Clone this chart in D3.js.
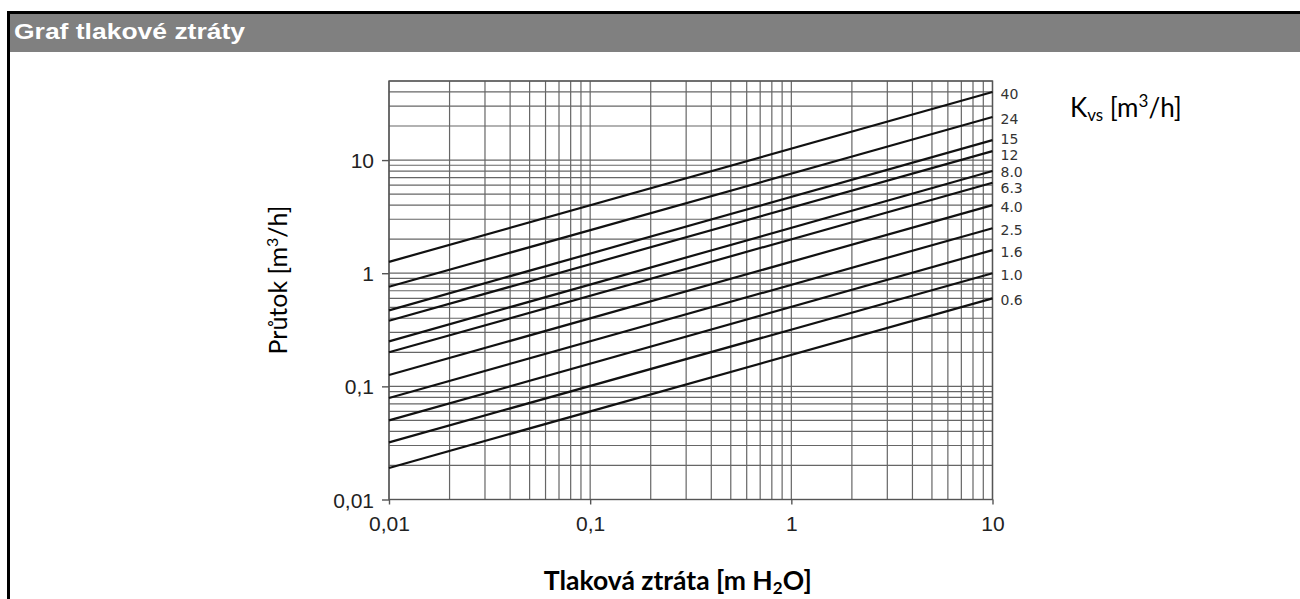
<!DOCTYPE html>
<html>
<head>
<meta charset="utf-8">
<script src="https://cdn.jsdelivr.net/npm/d3@7"></script>
<style>
  body { margin: 0; background: #fff; }
  svg { display: block; }
</style>
</head>
<body>
<div id="chart"></div>
<script>
var width = 1300,
    height = 599;

// valve Kvs values (labels at the right edge)
var kvsLabels = ["40", "24", "15", "12", "8.0", "6.3", "4.0", "2.5", "1.6", "1.0", "0.6"];
// flow read at 0,01 m H2O and at 10 m H2O for each line
var flowAtMin = [1.26, 0.76, 0.47, 0.38, 0.25, 0.20, 0.126, 0.079, 0.05, 0.032, 0.019];
var flowAtMax = [40, 24, 15, 12, 8.0, 6.3, 4.0, 2.5, 1.6, 1.0, 0.6];

var pressureRange = [0.01, 10];
var flowRange = [0.01, 50];

var xTicks = [0.01, 0.1, 1, 10],
    xTickLabels = ["0,01", "0,1", "1", "10"];
var yTicks = [0.01, 0.1, 1, 10],
    yTickLabels = ["0,01", "0,1", "1", "10"];

var plot = { left: 389, right: 992.5, top: 81, bottom: 499.5 };

var svg = d3.select("#chart").append("svg")
    .attr("width", width)
    .attr("height", height);

// frame + title bar
svg.append("rect")
    .attr("x", 7).attr("y", 11)
    .attr("width", width - 7).attr("height", 3.5)
    .attr("fill", "#000");
svg.append("rect")
    .attr("x", 7).attr("y", 14.5)
    .attr("width", width - 7).attr("height", 37.5)
    .attr("fill", "#808080");
svg.append("rect")
    .attr("x", 7).attr("y", 11)
    .attr("width", 3).attr("height", height - 11)
    .attr("fill", "#000");
svg.append("text")
    .attr("x", 14)
    .attr("y", 39)
    .attr("textLength", 231)
    .attr("lengthAdjust", "spacingAndGlyphs")
    .style("font-family", "'Liberation Sans', Arial, sans-serif")
    .style("font-weight", "bold")
    .style("font-size", "22px")
    .style("fill", "#fff")
    .text("Graf tlakové ztráty");

var x = d3.scaleLog().domain(pressureRange).range([plot.left, plot.right]);
var y = d3.scaleLog().domain(flowRange).range([plot.bottom, plot.top]);

var grid = svg.append("g").attr("id", "grid");

grid.selectAll(".vgrid")
    .data(x.ticks())
  .enter().append("line")
    .attr("class", "vgrid")
    .attr("x1", function(d) { return x(d); })
    .attr("x2", function(d) { return x(d); })
    .attr("y1", plot.top)
    .attr("y2", plot.bottom)
    .attr("stroke", "#666")
    .attr("stroke-width", 1.2);

grid.selectAll(".hgrid")
    .data(y.ticks())
  .enter().append("line")
    .attr("class", "hgrid")
    .attr("x1", plot.left)
    .attr("x2", plot.right)
    .attr("y1", function(d) { return y(d); })
    .attr("y2", function(d) { return y(d); })
    .attr("stroke", "#666")
    .attr("stroke-width", 1.2);

grid.append("rect")
    .attr("x", plot.left).attr("y", plot.top)
    .attr("width", plot.right - plot.left)
    .attr("height", plot.bottom - plot.top)
    .attr("fill", "none")
    .attr("stroke", "#555")
    .attr("stroke-width", 1.4);

// axes
var xAxis = d3.axisBottom(x)
    .tickValues(xTicks)
    .tickSize(5)
    .tickPadding(12)
    .tickFormat(function(d, i) { return xTickLabels[i]; });
var yAxis = d3.axisLeft(y)
    .tickValues(yTicks)
    .tickSize(7)
    .tickPadding(8)
    .tickFormat(function(d, i) { return yTickLabels[i]; });

svg.append("g")
    .attr("transform", "translate(0," + plot.bottom + ")")
    .call(xAxis)
    .call(function(g) { g.select(".domain").remove(); });
svg.append("g")
    .attr("transform", "translate(" + plot.left + ",0)")
    .call(yAxis)
    .call(function(g) { g.select(".domain").remove(); })
    .selectAll("text").attr("dy", "0.36em");

svg.selectAll(".tick line")
    .attr("stroke", "#555")
    .attr("stroke-width", 1.4);
svg.selectAll(".tick text")
    .style("font-family", "'Liberation Sans', Arial, sans-serif")
    .style("font-size", "21px")
    .style("fill", "#222");

// Kvs lines
var line = d3.line()
    .x(function(d) { return x(d[0]); })
    .y(function(d) { return y(d[1]); });

svg.append("g").attr("id", "kvsLines")
  .selectAll("path")
    .data(kvsLabels)
  .enter().append("path")
    .attr("d", function(d, i) {
      return line([[pressureRange[0], flowAtMin[i]], [pressureRange[1], flowAtMax[i]]]);
    })
    .attr("fill", "none")
    .attr("stroke", "#111")
    .attr("stroke-width", 2.2);

// labels at line ends, pushed apart where they crowd
var labelSize = 14,
    minGap = labelSize * 1.17;
var labelY = flowAtMax.map(function(v) { return y(v) + 2; });
for (var pass = 0; pass < 50; pass++) {
  for (var k = 1; k < labelY.length; k++) {
    var gap = labelY[k] - labelY[k - 1];
    if (gap < minGap) {
      var push = (minGap - gap) / 2;
      labelY[k - 1] -= push;
      labelY[k] += push;
    }
  }
}

svg.append("g").attr("id", "kvsLabels")
  .selectAll("text")
    .data(kvsLabels)
  .enter().append("text")
    .attr("x", plot.right + 8)
    .attr("y", function(d, i) { return labelY[i]; })
    .attr("dy", "0.36em")
    .style("font-family", "'DejaVu Sans', Verdana, sans-serif")
    .style("font-size", labelSize + "px")
    .style("fill", "#333")
    .text(function(d) { return d; });

// axis titles
var xTitle = svg.append("text")
    .attr("x", (plot.left + plot.right) / 2 - 13)
    .attr("y", 590)
    .attr("text-anchor", "middle")
    .style("font-family", "Lato, 'Open Sans', sans-serif")
    .style("font-weight", "bold")
    .style("font-size", "26.5px")
    .style("fill", "#000");
xTitle.append("tspan").text("Tlaková ztráta [m H");
xTitle.append("tspan").attr("baseline-shift", "-25%").style("font-size", "17px").text("2");
xTitle.append("tspan").text("O]");

var yTitle = svg.append("text")
    .attr("transform", "translate(287,280)rotate(-90)")
    .attr("text-anchor", "middle")
    .style("font-family", "Lato, 'Open Sans', sans-serif")
    .style("font-size", "25px")
    .style("fill", "#000");
yTitle.append("tspan").text("Průtok [m");
yTitle.append("tspan").attr("baseline-shift", "super").style("font-size", "16px").text("3");
yTitle.append("tspan").text("/h]");

var kvsTitle = svg.append("text")
    .attr("x", 1070)
    .attr("y", 117)
    .style("font-family", "Lato, 'Open Sans', sans-serif")
    .style("font-size", "26px")
    .style("fill", "#000");
kvsTitle.append("tspan").text("K");
kvsTitle.append("tspan").attr("baseline-shift", "-25%").style("font-size", "17px").text("vs");
kvsTitle.append("tspan").text(" [m");
kvsTitle.append("tspan").attr("baseline-shift", "super").style("font-size", "17px").text("3");
kvsTitle.append("tspan").text("/h]");
</script>
</body>
</html>
